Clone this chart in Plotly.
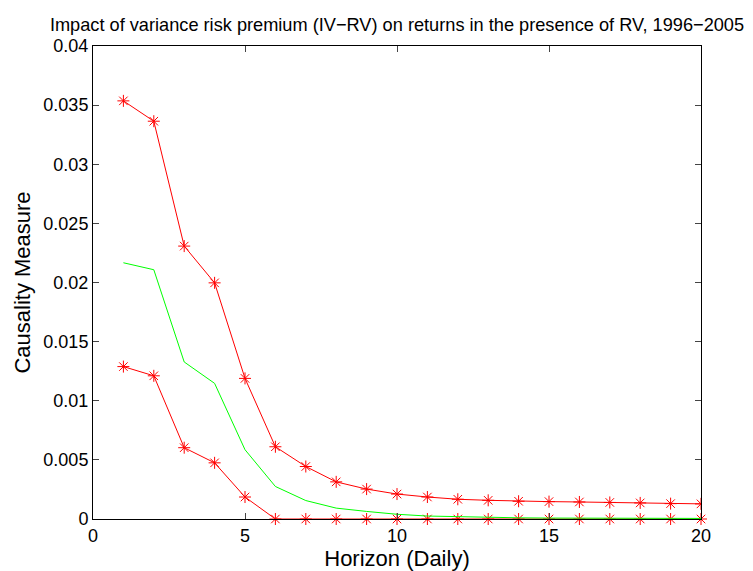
import plotly.graph_objects as go

horizon = list(range(1, 21))
upper_bound = [0.03536, 0.03364, 0.02308, 0.01997, 0.01189, 0.00611, 0.00444, 0.00314,
               0.00253, 0.00211, 0.00186, 0.00167, 0.00158, 0.00150, 0.00147, 0.00144,
               0.00140, 0.00136, 0.00130, 0.00128]
estimate = [0.02167, 0.02108, 0.01328, 0.01147, 0.00586, 0.00275, 0.00156, 0.00092,
            0.00064, 0.00040, 0.00025, 0.00018, 0.00013, 0.00010, 0.00008, 0.00007,
            0.00006, 0.00005, 0.00005, 0.00005]
lower_bound = [0.01289, 0.01211, 0.00603, 0.00475, 0.00186, 0, 0, 0,
               0, 0, 0, 0, 0, 0, 0, 0, 0, 0, 0, 0]

x_ticks = [0, 5, 10, 15, 20]
y_ticks = [0, 0.005, 0.01, 0.015, 0.02, 0.025, 0.03, 0.035, 0.04]
y_tick_labels = ["0", "0.005", "0.01", "0.015", "0.02", "0.025", "0.03", "0.035", "0.04"]

FS = 18
fig = go.Figure()
fig.add_trace(go.Scatter(x=horizon, y=upper_bound, mode="lines+markers",
                         line=dict(color="#ff0000", width=1),
                         marker=dict(symbol="asterisk-open", size=10,
                                     line=dict(color="#ff0000", width=1)),
                         showlegend=False))
fig.add_trace(go.Scatter(x=horizon, y=lower_bound, mode="lines+markers",
                         line=dict(color="#ff0000", width=1),
                         marker=dict(symbol="asterisk-open", size=10,
                                     line=dict(color="#ff0000", width=1)),
                         showlegend=False, cliponaxis=False))
fig.add_trace(go.Scatter(x=horizon, y=estimate, mode="lines",
                         line=dict(color="#00ff00", width=1), showlegend=False))

font_family = "Liberation Sans, Arial, sans-serif"
fig.update_layout(
    width=753, height=571,
    margin=dict(l=85, r=60, t=38, b=54),
    paper_bgcolor="white", plot_bgcolor="white",
    font=dict(family=font_family, size=FS, color="black"),
    title=dict(text="Impact of variance risk premium (IV\u2212RV) on returns in the presence of RV, 1996\u22122005",
               x=0.5, xref="paper", xanchor="center", y=1 - 17 / 571, yref="container",
               yanchor="middle", font=dict(size=18.2)),
)
fig.update_xaxes(range=[0, 20], tickvals=x_ticks, ticks="inside", ticklen=6,
                 showline=True, linecolor="black", linewidth=1, mirror="ticks",
                 showgrid=False, zeroline=False,
                 title=dict(text="Horizon (Daily)", standoff=6),
                 tickfont=dict(size=FS))
fig.update_yaxes(range=[0, 0.04], tickvals=y_ticks, ticktext=y_tick_labels,
                 ticks="inside", ticklen=6,
                 showline=True, linecolor="black", linewidth=1, mirror="ticks",
                 showgrid=False, zeroline=False,
                 title=dict(text="Causality Measure", standoff=6),
                 tickfont=dict(size=FS))

fig.write_html("out.html")
